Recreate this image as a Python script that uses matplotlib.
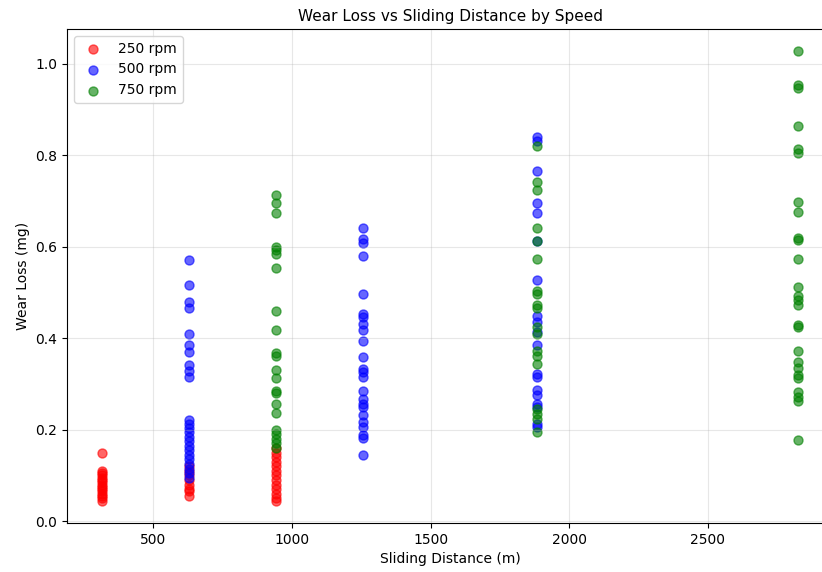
import matplotlib
matplotlib.use("Agg")
import matplotlib.pyplot as plt

# Sliding distances (m)
dist_250 = [314, 628, 942]
dist_500 = [628, 1256, 1884]
dist_750 = [942, 1884, 2826]

# Wear loss (mg) per speed and distance
wear_250_314 = [0.150, 0.110, 0.105, 0.100, 0.095, 0.090, 0.085, 0.080, 0.075,
                0.070, 0.065, 0.060, 0.055, 0.050, 0.045]
wear_250_628 = [0.120, 0.110, 0.100, 0.090, 0.080, 0.070, 0.065, 0.055]
wear_250_942 = [0.160, 0.150, 0.140, 0.130, 0.120, 0.110, 0.100, 0.090, 0.080,
                0.070, 0.060, 0.050, 0.045]

wear_500_628 = [0.571, 0.516, 0.479, 0.466, 0.410, 0.386, 0.369, 0.341, 0.328,
                0.316, 0.221, 0.212, 0.203, 0.194, 0.185, 0.175, 0.165, 0.155,
                0.145, 0.135, 0.125, 0.115, 0.105, 0.095]
wear_500_1256 = [0.642, 0.617, 0.609, 0.580, 0.497, 0.453, 0.446, 0.431, 0.417,
                 0.393, 0.359, 0.333, 0.325, 0.315, 0.284, 0.268, 0.257, 0.250,
                 0.232, 0.217, 0.206, 0.188, 0.181, 0.144]
wear_500_1884 = [0.840, 0.831, 0.765, 0.695, 0.673, 0.613, 0.527, 0.449, 0.435,
                 0.413, 0.386, 0.322, 0.315, 0.286, 0.275, 0.257, 0.250, 0.213,
                 0.205]

wear_750_942 = [0.713, 0.696, 0.673, 0.599, 0.592, 0.585, 0.553, 0.460, 0.417,
                0.368, 0.362, 0.330, 0.312, 0.285, 0.280, 0.257, 0.237, 0.199,
                0.190, 0.180, 0.170, 0.160]
wear_750_1884 = [0.820, 0.741, 0.724, 0.642, 0.613, 0.573, 0.504, 0.497, 0.473,
                 0.466, 0.424, 0.410, 0.373, 0.362, 0.344, 0.246, 0.235, 0.224,
                 0.195]
wear_750_2826 = [1.027, 0.953, 0.947, 0.863, 0.813, 0.804, 0.698, 0.675, 0.620,
                 0.615, 0.573, 0.511, 0.493, 0.484, 0.473, 0.429, 0.425, 0.373,
                 0.348, 0.335, 0.319, 0.312, 0.283, 0.272, 0.262, 0.177]

speeds = ["250 rpm", "500 rpm", "750 rpm"]
colors = ["red", "blue", "green"]
groups = [
    (dist_250, [wear_250_314, wear_250_628, wear_250_942]),
    (dist_500, [wear_500_628, wear_500_1256, wear_500_1884]),
    (dist_750, [wear_750_942, wear_750_1884, wear_750_2826]),
]

fig = plt.figure(figsize=(8.22, 5.72), dpi=100)
ax = fig.add_axes([67 / 822, 49 / 572, (833 - 67) / 822, (523 - 29) / 572])

for label, color, (dists, wears) in zip(speeds, colors, groups):
    xs, ys = [], []
    for d, w in zip(dists, wears):
        xs.extend([d] * len(w))
        ys.extend(w)
    ax.scatter(xs, ys, c=color, alpha=0.6, s=42, label=label)

ax.set_title("Wear Loss vs Sliding Distance by Speed", fontsize=11)
ax.set_xlabel("Sliding Distance (m)", fontsize=10)
ax.set_ylabel("Wear Loss (mg)", fontsize=10)
ax.grid(True, alpha=0.3)
ax.legend(loc="upper left")

fig.savefig("out.png", dpi=100)
